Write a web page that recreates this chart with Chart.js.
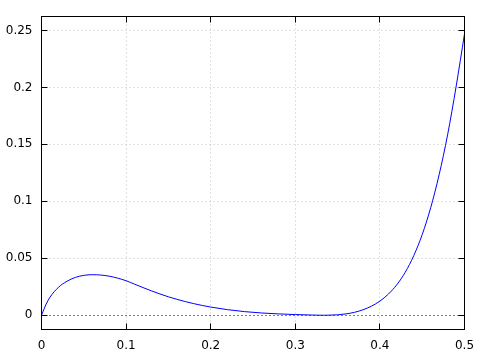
<!DOCTYPE html>
<html>
<head>
<meta charset="utf-8">
<script src="https://cdn.jsdelivr.net/npm/chart.js@4/dist/chart.umd.min.js"></script>
<style>
  html, body { margin: 0; padding: 0; background: #ffffff; }
  #chart { display: block; }
</style>
</head>
<body>
<canvas id="chart" width="498" height="362"></canvas>
<script>
'use strict'

// values
const xValues = [0, 0.005, 0.01, 0.02, 0.03, 0.04, 0.05, 0.06, 0.07, 0.08, 0.09, 0.1,
  0.11, 0.12, 0.13, 0.14, 0.15, 0.16, 0.17, 0.18, 0.19, 0.2, 0.22, 0.24, 0.26, 0.28,
  0.3, 0.32, 0.333, 0.34, 0.35, 0.36, 0.37, 0.38, 0.39, 0.4, 0.41, 0.42, 0.43, 0.44,
  0.45, 0.46, 0.47, 0.48, 0.49, 0.5];
const yValues = [0, 0.009, 0.0158, 0.0245, 0.0298, 0.0332, 0.035, 0.0356, 0.0353, 0.0343, 0.0326, 0.0303,
  0.0273, 0.0243, 0.0214, 0.0187, 0.0162, 0.014, 0.012, 0.0102, 0.0086, 0.0072, 0.0049, 0.0032, 0.002, 0.0012,
  0.0006, 0.0002, 0, 0.0001, 0.0004, 0.0012, 0.0026, 0.0048, 0.008, 0.0124, 0.0186, 0.0268, 0.0378, 0.0523,
  0.0708, 0.0943, 0.1233, 0.1583, 0.2003, 0.247];

const xTickValues = [0, 0.1, 0.2, 0.3, 0.4, 0.5];
const xTickLabels = ['0', '0.1', '0.2', '0.3', '0.4', '0.5'];
const yTickValues = [0, 0.05, 0.1, 0.15, 0.2, 0.25];
const yTickLabels = ['0', '0.05', '0.1', '0.15', '0.2', '0.25'];

const TICK_LEN = 6;

/** gnuplot-like frame: dotted grid, zero axis, border and inward ticks */
const framePlugin = {
  id: 'frame',
  beforeDatasetsDraw(chart) {
    const ctx = chart.ctx;
    const area = chart.chartArea;
    const xs = chart.scales.x;
    const ys = chart.scales.y;
    const left = Math.floor(area.left) + 0.5;
    const right = Math.floor(area.right) + 0.5;
    const top = Math.floor(area.top) + 0.5;
    const bottom = Math.floor(area.bottom) + 0.5;
    ctx.save();
    ctx.lineWidth = 1;
    ctx.setLineDash([1, 3]);
    ctx.strokeStyle = '#c0c0c0';
    xTickValues.forEach((v) => {
      const px = Math.floor(xs.getPixelForValue(v)) + 0.5;
      ctx.beginPath();
      ctx.moveTo(px, top);
      ctx.lineTo(px, bottom);
      ctx.stroke();
    });
    yTickValues.forEach((v) => {
      if (v === 0) return;
      const py = Math.floor(ys.getPixelForValue(v)) + 0.5;
      ctx.beginPath();
      ctx.moveTo(left, py);
      ctx.lineTo(right, py);
      ctx.stroke();
    });
    // zero axis
    ctx.strokeStyle = '#000000';
    const zy = Math.floor(ys.getPixelForValue(0)) + 0.5;
    ctx.beginPath();
    ctx.moveTo(left, zy);
    ctx.lineTo(right, zy);
    ctx.stroke();
    ctx.restore();
  },
  afterDatasetsDraw(chart) {
    const ctx = chart.ctx;
    const area = chart.chartArea;
    const xs = chart.scales.x;
    const ys = chart.scales.y;
    const left = Math.floor(area.left) + 0.5;
    const right = Math.floor(area.right) + 0.5;
    const top = Math.floor(area.top) + 0.5;
    const bottom = Math.floor(area.bottom) + 0.5;
    ctx.save();
    ctx.lineWidth = 1;
    ctx.strokeStyle = '#000000';
    ctx.strokeRect(left, top, right - left, bottom - top);
    ctx.beginPath();
    xTickValues.forEach((v) => {
      const px = Math.floor(xs.getPixelForValue(v)) + 0.5;
      ctx.moveTo(px, bottom);
      ctx.lineTo(px, bottom - TICK_LEN);
      ctx.moveTo(px, top);
      ctx.lineTo(px, top + TICK_LEN);
    });
    yTickValues.forEach((v) => {
      const py = Math.floor(ys.getPixelForValue(v)) + 0.5;
      ctx.moveTo(left, py);
      ctx.lineTo(left + TICK_LEN, py);
      ctx.moveTo(right, py);
      ctx.lineTo(right - TICK_LEN, py);
    });
    ctx.stroke();
    ctx.restore();
  }
};

const ctx = document.getElementById('chart').getContext('2d');
new Chart(ctx, {
  type: 'line',
  data: {
    datasets: [{
      data: xValues.map((x, i) => ({ x: x, y: yValues[i] })),
      borderColor: '#0000ff',
      borderWidth: 1,
      pointRadius: 0,
      fill: false,
      cubicInterpolationMode: 'monotone'
    }]
  },
  options: {
    responsive: false,
    animation: false,
    layout: { padding: { left: 0, right: 33.5, top: 12.5, bottom: 0 } },
    plugins: {
      legend: { display: false },
      tooltip: { enabled: false }
    },
    scales: {
      x: {
        type: 'linear',
        min: 0,
        max: 0.5,
        grid: { display: false, drawTicks: false },
        border: { display: false },
        afterBuildTicks: (s) => { s.ticks = xTickValues.map((v) => ({ value: v })); },
        afterFit: (s) => { s.height = 32.5; },
        ticks: {
          padding: 9,
          maxRotation: 0,
          autoSkip: false,
          color: '#000000',
          font: { family: 'DejaVu Sans', size: 12 },
          callback: (v, i) => xTickLabels[i]
        }
      },
      y: {
        type: 'linear',
        min: -0.0125,
        max: 0.2625,
        grid: { display: false, drawTicks: false },
        border: { display: false },
        afterBuildTicks: (s) => { s.ticks = yTickValues.map((v) => ({ value: v })); },
        afterFit: (s) => { s.width = 41.5; },
        ticks: {
          padding: 9,
          autoSkip: false,
          color: '#000000',
          font: { family: 'DejaVu Sans', size: 12 },
          callback: (v, i) => yTickLabels[i]
        }
      }
    }
  },
  plugins: [framePlugin]
});
</script>
</body>
</html>
